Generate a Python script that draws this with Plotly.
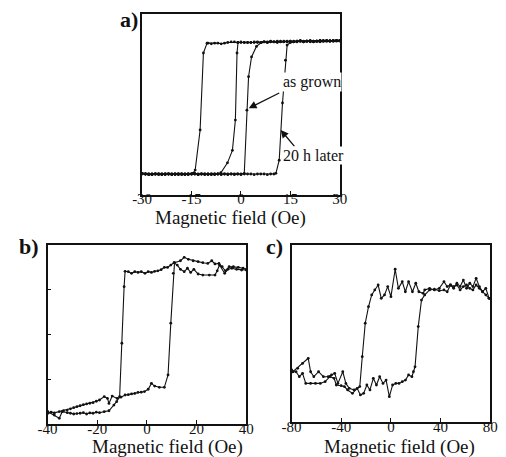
import plotly.graph_objects as go

# ---------------- Panel a: two loops (M/Ms) ----------------
# "20 h later" loop (outer)
a_out_dn_x = [30, 29, 28, 27, 26, 25, 24, 23, 22, 21, 20, 19, 18, 17, 16, 15, 14, 13, 12, 11,
              10, 9, 8, 7, 6, 5, 4, 3, 2, 1, 0, -1, -2, -3, -4, -5, -6, -7, -8, -9, -10,
              -10.3, -11.4, -12.4, -13.9, -14.6,
              -16, -17, -18, -19, -20, -21, -22, -23, -24, -25, -26, -27, -28, -29, -30]
a_out_dn_y = [1.03, 1.02, 1.03, 1.02, 1.02, 1.03, 1.02, 1.02, 1.01, 1.02, 1.02, 1.01, 1.02, 1.02, 1.01, 1.02, 1.01, 1.01, 1.02, 1.01,
              1.01, 1.01, 1.00, 1.01, 1.00, 1.01, 1.00, 1.00, 1.00, 1.00, 1.01, 1.00, 1.01, 1.01, 1.00, 0.99, 0.98, 0.99, 0.99, 0.98, 0.99,
              0.99, 0.84, -0.33, -0.94, -0.99,
              -1.00, -1.00, -1.01, -1.00, -1.00, -1.01, -1.00, -1.00, -1.00, -1.01, -1.00, -1.00, -1.01, -1.00, -0.99]
a_out_up_x = [-30, -29, -28, -27, -26, -25, -24, -23, -22, -21, -20, -19, -18, -17, -16, -15, -14, -13, -12, -11,
              -10, -9, -8, -7, -6, -5, -4, -3, -2, -1, 0, 1, 2, 3, 4, 5, 6, 7, 8, 9, 10,
              10.6, 11.6, 12.6, 13.5, 14.0,
              15, 16, 17, 18, 19, 20, 21, 22, 23, 24, 25, 26, 27, 28, 29, 30]
a_out_up_y = [-0.99, -1.00, -1.00, -1.01, -1.00, -1.00, -1.00, -1.01, -1.00, -1.00, -1.00, -1.01, -1.00, -1.00, -1.01, -1.00, -0.99, -1.00, -1.00, -1.01,
              -1.00, -1.00, -1.01, -1.00, -1.00, -1.00, -1.01, -1.00, -1.00, -1.00, -1.01, -1.00, -1.00, -1.00, -1.01, -1.00, -1.00, -1.00, -1.01, -1.00, -1.00,
              -0.99, -0.79, 0.08, 0.73, 0.96,
              1.00, 1.01, 1.01, 1.02, 1.01, 1.02, 1.02, 1.01, 1.02, 1.03, 1.02, 1.02, 1.03, 1.02, 1.03, 1.03]
# "as grown" loop (inner)
a_in_dn_x = [30, 29, 28, 27, 26, 25, 24, 23, 22, 21, 20, 19, 18, 17, 16, 15, 14, 13, 12, 11,
             10, 9, 8, 7, 6, 5, 4, 3, 2, 1, 0,
             -0.9, -1.2, -1.7, -2.6, -4.1, -6.1,
             -7, -8, -9, -10, -11, -12, -13, -14, -15, -16, -17, -18, -19, -20, -21, -22, -23, -24, -25, -26, -27, -28, -29, -30]
a_in_dn_y = [1.02, 1.03, 1.02, 1.02, 1.03, 1.02, 1.01, 1.02, 1.02, 1.01, 1.02, 1.01, 1.02, 1.01, 1.01, 1.02, 1.01, 1.01, 1.01, 1.00,
             1.01, 1.01, 1.00, 1.01, 1.00, 1.00, 1.01, 1.00, 1.00, 1.00, 1.00,
             1.00, 0.84, -0.18, -0.64, -0.83, -0.98,
             -1.00, -1.00, -1.01, -1.00, -1.00, -1.00, -1.01, -1.00, -1.00, -1.00, -1.01, -1.00, -1.00, -1.01, -1.00, -1.00, -1.00, -1.01, -1.00, -1.00, -1.01, -1.00, -1.00, -0.99]
a_in_up_x = [-30, -29, -28, -27, -26, -25, -24, -23, -22, -21, -20, -19, -18, -17, -16, -15, -14, -13, -12, -11,
             -10, -9, -8, -7, -6, -5, -4, -3, -2, -1, 0,
             1.0, 1.8, 2.3, 3.2, 4.7, 6.2,
             7, 8, 9, 10, 11, 12, 13, 14, 15, 16, 17, 18, 19, 20, 21, 22, 23, 24, 25, 26, 27, 28, 29, 30]
a_in_up_y = [-1.00, -1.00, -1.01, -1.00, -1.00, -1.00, -1.01, -1.00, -1.00, -1.01, -1.00, -1.00, -1.00, -1.01, -1.00, -1.00, -1.00, -1.01, -1.00, -1.00,
             -1.01, -1.00, -1.00, -1.00, -1.01, -1.00, -1.00, -1.00, -1.01, -1.00, -1.00,
             -0.99, -0.03, 0.48, 0.78, 0.94, 1.00,
             1.01, 1.01, 1.02, 1.01, 1.02, 1.01, 1.02, 1.02, 1.01, 1.02, 1.02, 1.03, 1.02, 1.02, 1.03, 1.02, 1.02, 1.03, 1.02, 1.03, 1.02, 1.03, 1.03, 1.03]
a_ticks = [-30, -15, 0, 15, 30]
a_ticktext = ["-30", "-15", "0", "15", "30"]

# ---------------- Panel b ----------------
b_dn_x = [40, 38.1, 36.1, 34.2, 32.6, 31.3, 29.2, 28.3, 27.4, 25.1, 22.5, 20.6, 18.9, 17.6, 16.3, 15.0, 13.5, 12.2,
          10.9, 9.6, 8.3, 7.0, 5.7, 4.4, 3.1, 1.8, 0.5, -0.8, -2.3, -3.6, -4.9, -6.2, -7.5, -8.8,
          -9.2, -10.1, -11.0, -12.2, -13.3, -15.3, -17.2, -19.1, -20.4, -21.7, -23.0, -24.3, -25.6, -26.9,
          -28.2, -29.5, -30.8, -32.1, -34.1, -35.3, -37.3, -39.9]
b_dn_y = [0.860, 0.860, 0.864, 0.870, 0.864, 0.842, 0.888, 0.856, 0.832, 0.832, 0.832, 0.838, 0.864, 0.847, 0.870, 0.851, 0.864, 0.888,
          0.901, 0.888, 0.875, 0.875, 0.862, 0.856, 0.853, 0.847, 0.851, 0.842, 0.851, 0.847, 0.851, 0.842, 0.851, 0.853,
          0.767, 0.451, 0.153, 0.125, 0.106, 0.074, 0.069, 0.063, 0.066, 0.060, 0.062, 0.056, 0.063, 0.060,
          0.058, 0.056, 0.060, 0.063, 0.069, 0.032, 0.050, 0.069]
b_up_x = [-39.9, -38.6, -37.3, -35.3, -33.6, -32.1, -30.8, -29.5, -28.2, -26.9, -25.6, -24.3, -23.0, -21.7, -20.4, -19.1,
          -17.2, -15.9, -15.3, -14.0, -12.0, -10.5, -8.8, -7.5, -6.2, -4.9, -3.6, -2.3, -1.0, 0.5, 1.8, 3.1, 5.0, 7.0,
          8.5, 9.6, 10.6, 11.1, 13.5, 15.0, 16.7, 18.6, 20.6, 22.5, 24.5, 26.1, 27.4, 29.0, 30.3, 31.6, 33.1, 34.8, 36.8, 38.7, 40]
b_up_y = [0.060, 0.066, 0.062, 0.069, 0.074, 0.078, 0.085, 0.091, 0.097, 0.102, 0.108, 0.112, 0.116, 0.119, 0.127, 0.134,
          0.153, 0.143, 0.115, 0.156, 0.143, 0.150, 0.162, 0.164, 0.168, 0.171, 0.177, 0.178, 0.181, 0.194, 0.227, 0.212, 0.205, 0.205,
          0.274, 0.563, 0.842, 0.901, 0.912, 0.931, 0.920, 0.912, 0.907, 0.901, 0.897, 0.912, 0.894, 0.897, 0.879, 0.856, 0.879, 0.879, 0.875, 0.870, 0.864]
b_ticks = [-40, -20, 0, 20, 40]
b_ticktext = ["-40", "-20", "0", "20", "40"]

# ---------------- Panel c ----------------
c_dn_x = [80, 79.0, 76.4, 73.8, 71.2, 68.6, 66.0, 63.5, 60.9, 58.3, 55.7, 53.1, 50.5, 47.9, 45.3, 42.7, 38.9, 35.0, 31.1, 27.2,
          25.9, 22.5, 20.0, 17.3, 14.2, 11.6, 9.1, 6.0, 3.4, 0.0, -2.6, -5.2, -7.8, -10.3, -13.0, -15.5, -18.1,
          -20.7, -23.1, -25.1, -29.7, -33.6, -36.3, -38.8, -42.7, -45.3, -47.9, -50.5, -54.4, -58.3, -62.1, -64.7,
          -66.6, -71.2, -75.1, -79.0, -80]
c_dn_y = [0.699, 0.699, 0.755, 0.736, 0.765, 0.812, 0.765, 0.784, 0.755, 0.802, 0.765, 0.784, 0.755, 0.774, 0.765, 0.793, 0.755, 0.746, 0.755, 0.746,
          0.727, 0.736, 0.784, 0.736, 0.793, 0.736, 0.793, 0.755, 0.863, 0.708, 0.765, 0.718, 0.699, 0.774, 0.746, 0.718, 0.651,
          0.558, 0.369, 0.200, 0.181, 0.190, 0.218, 0.284, 0.218, 0.275, 0.266, 0.256, 0.256, 0.284, 0.256, 0.284,
          0.360, 0.331, 0.303, 0.284, 0.294]
c_up_x = [-80, -79.0, -76.4, -73.8, -71.2, -68.6, -64.7, -60.8, -56.9, -53.0, -49.1, -45.8, -44.0, -40.1, -37.5, -34.9, -31.0, -27.2,
          -24.6, -22.0, -19.4, -16.9, -14.2, -11.7, -9.1, -6.4, -3.9, -1.3, 1.3, 3.9, 6.5, 9.1, 11.7, 14.2, 16.9, 18.1, 19.4,
          22.0, 24.6, 27.2, 31.1, 35.0, 38.9, 42.7, 45.3, 47.9, 50.5, 53.1, 55.7, 58.3, 60.9, 63.5, 66.0, 68.6, 71.2, 73.8, 76.4, 79.0, 80]
c_up_y = [0.284, 0.284, 0.284, 0.256, 0.275, 0.218, 0.218, 0.218, 0.218, 0.228, 0.256, 0.247, 0.209, 0.205, 0.200, 0.181, 0.162, 0.190,
          0.153, 0.162, 0.209, 0.181, 0.247, 0.209, 0.256, 0.218, 0.237, 0.143, 0.209, 0.218, 0.218, 0.228, 0.237, 0.266, 0.256, 0.284, 0.312,
          0.539, 0.689, 0.718, 0.746, 0.750, 0.742, 0.746, 0.736, 0.774, 0.765, 0.774, 0.746, 0.765, 0.774, 0.755, 0.746, 0.774, 0.755, 0.736, 0.718, 0.699, 0.699]
c_ticks = [-80, -40, 0, 40, 80]
c_ticktext = ["-80", "-40", "0", "40", "80"]

FONT = "Liberation Serif"
INK = "#111111"

W, H = 506, 457
def px_x(p):
    return p / W
def px_y(p):
    return 1 - p / H

fig = go.Figure()

def add(x, y, xa, ya):
    fig.add_trace(go.Scatter(
        x=x, y=y, xaxis=xa, yaxis=ya, mode="lines+markers",
        line=dict(color=INK, width=1.1),
        marker=dict(color=INK, size=2.8, symbol="circle"),
        showlegend=False, hoverinfo="skip"))

add(a_out_dn_x, a_out_dn_y, "x", "y")
add(a_out_up_x, a_out_up_y, "x", "y")
add(a_in_dn_x, a_in_dn_y, "x", "y")
add(a_in_up_x, a_in_up_y, "x", "y")
add(b_dn_x, b_dn_y, "x2", "y2")
add(b_up_x, b_up_y, "x2", "y2")
add(c_dn_x, c_dn_y, "x3", "y3")
add(c_up_x, c_up_y, "x3", "y3")

box = dict(showline=True, mirror=True, linecolor=INK, linewidth=1.5,
           showgrid=False, zeroline=False)
tickfont = dict(family=FONT, size=15, color=INK)

fig.update_layout(
    width=W, height=H, margin=dict(l=0, r=0, t=0, b=0),
    paper_bgcolor="white", plot_bgcolor="white",
    font=dict(family=FONT, color=INK),
    xaxis=dict(domain=[px_x(137), px_x(342)], range=[-30, 30], anchor="y",
               tickvals=a_ticks, ticktext=a_ticktext, ticks="inside", ticklen=4,
               tickcolor=INK, tickfont=tickfont, ticklabelstandoff=-11, **box),
    yaxis=dict(domain=[px_y(195), px_y(14)], range=[-1.319, 1.433], anchor="x",
               showticklabels=False, ticks="", **box),
    xaxis2=dict(domain=[px_x(39), px_x(245)], range=[-40, 40], anchor="y2",
                tickvals=b_ticks, ticktext=b_ticktext, ticks="inside", ticklen=4,
                tickcolor=INK, tickfont=tickfont, ticklabelstandoff=-10, **box),
    yaxis2=dict(domain=[px_y(424), px_y(245)], range=[0, 1], anchor="x2",
                tickvals=[0.25, 0.5, 0.75], ticks="inside", ticklen=4, tickcolor=INK,
                showticklabels=False, **box),
    xaxis3=dict(domain=[px_x(292), px_x(498)], range=[-80, 80], anchor="y3",
                tickvals=c_ticks, ticktext=c_ticktext, ticks="inside", ticklen=4,
                tickcolor=INK, tickfont=tickfont, ticklabelstandoff=-10, **box),
    yaxis3=dict(domain=[px_y(422), px_y(245)], range=[0, 1], anchor="x3",
                showticklabels=False, ticks="", **box),
)

title_font = dict(family=FONT, size=19, color=INK)
label_font = dict(family=FONT, size=22, color=INK)
note_font = dict(family=FONT, size=16, color=INK)

annotations = [
    dict(text="Magnetic field (Oe)", x=px_x(229), y=px_y(218), xref="paper", yref="paper",
         showarrow=False, font=title_font, xanchor="center", yanchor="middle"),
    dict(text="Magnetic field (Oe)", x=px_x(163), y=px_y(447), xref="paper", yref="paper",
         showarrow=False, font=title_font, xanchor="center", yanchor="middle"),
    dict(text="Magnetic field (Oe)", x=px_x(404), y=px_y(447), xref="paper", yref="paper",
         showarrow=False, font=title_font, xanchor="center", yanchor="middle"),
    dict(text="<b>a)</b>", x=px_x(123), y=px_y(19), xref="paper", yref="paper",
         showarrow=False, font=label_font, xanchor="center", yanchor="middle"),
    dict(text="<b>b)</b>", x=px_x(20), y=px_y(246), xref="paper", yref="paper",
         showarrow=False, font=label_font, xanchor="center", yanchor="middle"),
    dict(text="<b>c)</b>", x=px_x(274), y=px_y(246), xref="paper", yref="paper",
         showarrow=False, font=label_font, xanchor="center", yanchor="middle"),
    # arrows
    dict(text="", x=2.35, y=0.0, xref="x", yref="y", showarrow=True,
         ax=32, ay=-16, arrowhead=2, arrowsize=1.2, arrowwidth=1.3, arrowcolor=INK, standoff=0),
    dict(text="", x=12.06, y=-0.33, xref="x", yref="y", showarrow=True,
         ax=15, ay=18, arrowhead=2, arrowsize=1.2, arrowwidth=1.3, arrowcolor=INK, standoff=0),
    dict(text="as grown", x=px_x(282), y=px_y(82), xref="paper", yref="paper",
         showarrow=False, font=note_font, xanchor="left", yanchor="middle",
         bgcolor="white", borderpad=0),
    dict(text="20 h later", x=px_x(282), y=px_y(155), xref="paper", yref="paper",
         showarrow=False, font=note_font, xanchor="left", yanchor="middle",
         bgcolor="white", borderpad=0),
]
fig.update_layout(annotations=annotations)

fig.write_html("out.html")
